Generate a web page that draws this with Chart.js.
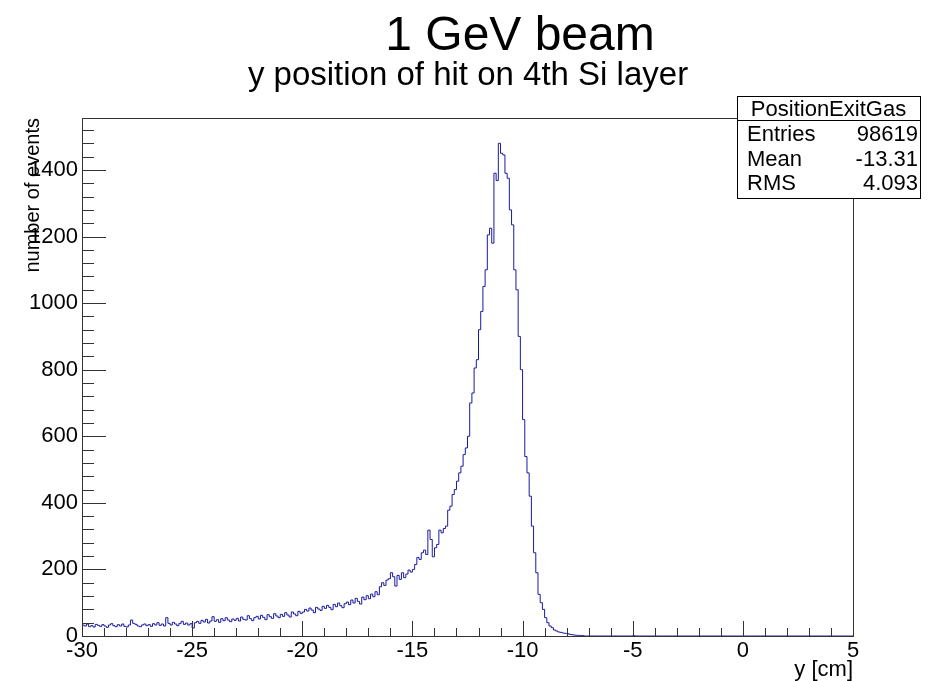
<!DOCTYPE html>
<html>
<head>
<meta charset="utf-8">
<script src="https://cdn.jsdelivr.net/npm/chart.js@4.4.0/dist/chart.umd.min.js"></script>
<style>
  html, body { margin: 0; padding: 0; background: #fff; }
  #wrap { position: relative; width: 936px; height: 681px; }
</style>
</head>
<body>
<div id="wrap"><canvas id="hist" width="936" height="681"></canvas></div>
<script>
// ── histogram: y position of hit on 4th Si layer (ROOT look) ─────────────────
const FONT = '"Liberation Sans", Arial, Helvetica, sans-serif';
const LINE = '#1a1aa0';

const binLow   = -30;   // first bin low edge [cm]
const binWidth = 0.1;   // bin width [cm]

// counts per bin, in slices of the x range
const countsA = [ // -30 .. -25
  33, 30, 36, 28, 31, 27, 35, 32, 29, 34,
  30, 26, 33, 37, 31, 28, 34, 30, 36, 29,
  27, 33, 48, 38, 35, 30, 28, 33, 36, 31,
  34, 29, 37, 33, 40, 32, 36, 30, 55, 38,
  33, 41, 36, 31, 38, 44, 35, 39, 33, 37,
];
const countsB = [ // -25 .. -20
  24, 40, 44, 38, 47, 42, 50, 39, 45, 58,
  44, 49, 41, 52, 46, 55, 48, 43, 51, 47,
  53, 45, 57, 50, 48, 61, 52, 46, 55, 59,
  51, 62, 56, 49, 64, 58, 53, 67, 60, 55,
  65, 59, 70, 63, 57, 72, 66, 61, 74, 68,
];
const countsC = [ // -20 .. -16
  72, 80, 75, 84, 78, 70, 86, 81, 77, 89,
  83, 92, 86, 79, 95, 88, 99, 91, 85, 97,
  102, 94, 108, 99, 113, 104, 96, 117, 109, 121,
  112, 126, 118, 133, 124, 148, 160, 152, 168, 172,
];
const countsD = [ // -16 .. -13
  190, 178, 150, 182, 170, 190, 175, 186, 198, 192,
  200, 215, 236, 230, 250, 258, 245, 318, 290, 238,
  265, 275, 318, 310, 323, 330, 378, 390, 425, 440,
];
const countsE = [ // -13 .. -10
  465, 490, 510, 545, 565, 600, 700, 730, 805, 830,
  920, 975, 1050, 1100, 1205, 1225, 1180, 1390, 1368, 1480,
  1450, 1445, 1390, 1375, 1280, 1235, 1100, 1040, 900, 800,
];
const countsF = [ // -10 .. -7
  650, 539, 490, 420, 330, 250, 190, 125, 100, 80,
  55, 40, 30, 25, 18, 15, 12, 11, 9, 8,
  7, 5, 4, 3, 2, 2, 1, 1, 0, 0,
];
const countsG = [ // -7 .. 5
  0, 0, 0, 0, 0, 0, 0, 0, 0, 0,
  0, 0, 0, 0, 0, 0, 0, 0, 0, 0,
  1, 0, 0, 0, 0, 0, 0, 0, 0, 0,
  0, 0, 0, 0, 0, 0, 0, 0, 0, 0,
  0, 0, 0, 0, 0, 0, 0, 0, 0, 0,
  0, 0, 0, 0, 0, 0, 0, 0, 0, 0,
  0, 0, 0, 0, 0, 0, 0, 0, 0, 0,
  0, 0, 0, 0, 0, 0, 0, 0, 0, 0,
  0, 0, 0, 0, 0, 0, 0, 0, 0, 0,
  0, 0, 0, 0, 0, 0, 0, 0, 0, 0,
  0, 0, 0, 0, 0, 0, 0, 0, 0, 0,
  0, 0, 0, 0, 0, 0, 0, 0, 0, 0,
];

const xTicks = [-30, -25, -20, -15, -10, -5, 0, 5];
const yTicks = [0, 200, 400, 600, 800, 1000, 1200, 1400];

const titleText    = '1 GeV beam';
const subtitleText = 'y position of hit on 4th Si layer';
const xTitle = 'y [cm]';
const yTitle = 'number of events';
const statsName = 'PositionExitGas';
const statsRows = [['Entries', '98619'], ['Mean', '-13.31'], ['RMS', '4.093']];

const counts = [].concat(countsA, countsB, countsC, countsD, countsE, countsF, countsG);
// step outline: one point per bin low edge, plus the last high edge
const points = counts.map((c, i) => ({ x: +(binLow + i * binWidth).toFixed(2), y: c }));
points.push({ x: +(binLow + counts.length * binWidth).toFixed(2), y: counts[counts.length - 1] });

// frame, inward ticks, titles and stats box, ROOT style
const rootDecor = {
  id: 'rootDecor',
  afterDatasetsDraw(chart) {
    const { ctx, chartArea: a, scales: { x, y } } = chart;
    ctx.save();
    ctx.strokeStyle = '#333';
    ctx.lineWidth = 1;
    ctx.strokeRect(a.left + 0.5, a.top + 0.5, a.right - a.left, a.bottom - a.top);

    ctx.beginPath();
    for (let v = x.min; v <= x.max + 1e-6; v += 1) {
      const px = Math.round(x.getPixelForValue(v)) + 0.5;
      const len = xTicks.includes(Math.round(v)) ? 15 : 8;
      ctx.moveTo(px, a.bottom);
      ctx.lineTo(px, a.bottom - len);
    }
    for (let v = 0; v <= y.max; v += 40) {
      const py = Math.round(y.getPixelForValue(v)) + 0.5;
      const len = v % 200 === 0 ? 24 : 12;
      ctx.moveTo(a.left, py);
      ctx.lineTo(a.left + len, py);
    }
    ctx.stroke();
    ctx.restore();
  },
  afterDraw(chart) {
    const { ctx, chartArea: a } = chart;
    ctx.save();
    ctx.fillStyle = '#000';
    ctx.textBaseline = 'alphabetic';

    ctx.textAlign = 'center';
    ctx.font = `48px ${FONT}`;
    ctx.fillText(titleText, 520, 50);
    ctx.font = `33px ${FONT}`;
    ctx.fillText(subtitleText, 468, 85);

    // axis titles
    ctx.font = `22px ${FONT}`;
    ctx.textAlign = 'right';
    ctx.fillText(xTitle, a.right, 676);
    ctx.save();
    ctx.translate(39, a.top);
    ctx.rotate(-Math.PI / 2);
    ctx.font = `20px ${FONT}`;
    ctx.textAlign = 'right';
    ctx.fillText(yTitle, 0, 0);
    ctx.restore();

    // stats box
    const bx = 737, by = 96, bw = 183, bh = 102;
    ctx.fillStyle = '#fff';
    ctx.fillRect(bx, by, bw, bh);
    ctx.strokeStyle = '#000';
    ctx.lineWidth = 1;
    ctx.strokeRect(bx + 0.5, by + 0.5, bw, bh);
    ctx.beginPath();
    ctx.moveTo(bx, by + 24.5);
    ctx.lineTo(bx + bw, by + 24.5);
    ctx.stroke();
    ctx.fillStyle = '#000';
    ctx.textAlign = 'center';
    ctx.font = `22px ${FONT}`;
    ctx.fillText(statsName, bx + bw / 2, by + 20);
    ctx.font = `22px ${FONT}`;
    statsRows.forEach(([k, v], i) => {
      const ty = by + 45 + i * 24.5;
      ctx.textAlign = 'left';
      ctx.fillText(k, bx + 10, ty);
      ctx.textAlign = 'right';
      ctx.fillText(v, bx + bw - 2, ty);
    });
    ctx.restore();
  },
};

new Chart(document.getElementById('hist'), {
  type: 'line',
  data: {
    datasets: [{
      data:        points,
      borderColor: LINE,
      borderWidth: 1,
      pointRadius: 0,
      stepped:     'before',
      fill:        false,
    }],
  },
  options: {
    responsive: false,
    animation: false,
    layout: { padding: { top: 118, right: 83, left: 0, bottom: 0 } },
    plugins: { legend: { display: false }, tooltip: { enabled: false } },
    scales: {
      x: {
        type: 'linear', min: -30, max: 5,
        grid: { display: false, drawTicks: false },
        border: { display: false },
        ticks: { color: '#000', font: { family: FONT, size: 22 }, padding: 2, maxRotation: 0, autoSkip: false,
                 callback: v => String(v) },
        afterBuildTicks: s => { s.ticks = xTicks.map(v => ({ value: v })); },
        afterFit: s => { s.height = 45; },
      },
      y: {
        type: 'linear', min: 0, max: 1556,
        grid: { display: false, drawTicks: false },
        border: { display: false },
        ticks: { color: '#000', font: { family: FONT, size: 22 }, padding: 4, autoSkip: false,
                 callback: v => String(v) },
        afterBuildTicks: s => { s.ticks = yTicks.map(v => ({ value: v })); },
        afterFit: s => { s.width = 82; },
      },
    },
  },
  plugins: [rootDecor],
});
</script>
</body>
</html>
